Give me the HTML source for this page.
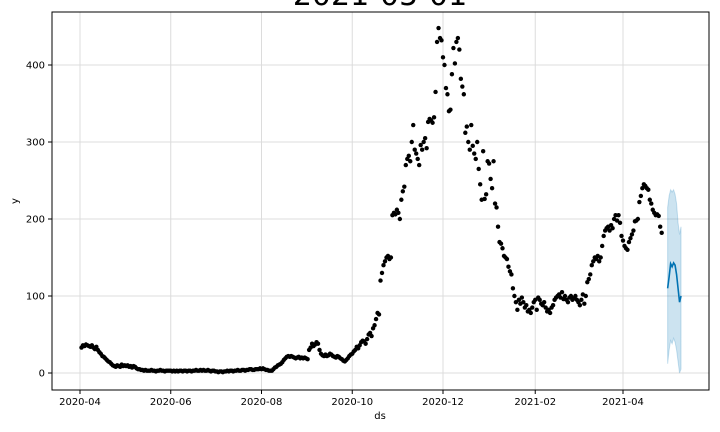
<!DOCTYPE html>
<html><head><meta charset="utf-8"><style>
html,body{margin:0;padding:0;background:#fff;width:720px;height:432px;overflow:hidden}
svg{display:block;font-family:"DejaVu Sans","Liberation Sans",sans-serif}
</style></head><body>
<svg id="chart" width="720" height="432">
<text x="380" y="5" font-size="30" text-anchor="middle" fill="#000">2021-05-01</text>
<g id="grid"></g>
<g id="band"></g>
<g id="dots"></g>
<g id="fline"></g>
<g id="axes"></g>
<text x="380" y="419" font-size="10" text-anchor="middle">ds</text>
<text x="18" y="201" font-size="10" text-anchor="middle" transform="rotate(-90 18 201)">y</text>
<rect x="52" y="12" width="657" height="378" fill="none" stroke="#000" stroke-width="1"/>
</svg>
<script>
const aprData=[33,36,35,37,36,35,34,36,33,31,34,30,27,25,22,21,19,17,15,14,12,10,9,8,10,9,8,11];
const mayData=[9,10,9,10,8,9,7,9,8,6,5,5,4,4,3,4,3,3,3,4,3,3,2,3,3,4,3,3,2,3,3];
const junData=[3,3,2,3,2,3,2,3,3,2,3,3,2,3,3,2,3,3,4,3,3,4,3,4,3,3,4,3,2,3];
const julData=[3,2,2,1,2,2,1,2,2,3,2,3,3,2,3,3,4,3,3,4,4,3,4,4,5,5,4,4,5,5,5];
const augData=[6,5,6,5,4,4,3,3,3,5,7,8,10,11,12,14,17,19,21,22,21,22,21,20,19,20,21,19,20,19,20];
const sepData=[19,18,30,33,38,35,37,40,38,30,25,23,22,24,22,23,25,24,22,21,20,22,21,19,18,16,15,17,19,22];
const octData=[24,25,28,30,34,32,36,40,42,41,38,44,50,52,48,58,62,70,78,76,120,130,140,145,150,152,148,150,205,208,206];
const novData=[212,208,200,225,236,242,270,278,282,275,300,322,290,285,278,270,296,290,300,305,292,326,330,328,325,332,365,430,448,435];
const decData=[432,410,400,370,362,340,342,388,422,402,430,435,420,382,372,362,312,320,300,290,322,295,285,278,300,265,245,225,288,226,232];
const janData=[275,272,252,240,275,220,215,190,170,168,162,152,150,148,138,132,128,110,100,92,82,95,90,98,92,85,88,80,82,78,85];
const febData=[92,95,82,98,95,90,88,92,85,80,82,78,85,88,95,98,100,102,98,105,96,100,95,92,98,100,95,97];
const marData=[100,95,92,88,95,102,90,100,118,122,128,140,145,150,148,152,145,150,165,178,185,188,190,185,192,188,200,205,198,205,195];
const apr21Data=[178,172,165,162,160,170,175,180,185,197,198,200,222,230,240,245,243,240,238,225,220,212,208,205,206,204,190,182];
const fcYhat=[110,125,142,138,143,140,128,110,92,100];
const fcUpper=[215,230,238,235,238,232,220,195,180,190];
const fcLower=[12,30,42,38,45,40,30,15,0,5];
const xTickDays=[0,61,122,183,244,306,365];
const xTickLabels=["2020-04","2020-06","2020-08","2020-10","2020-12","2021-02","2021-04"];
const yTicks=[0,100,200,300,400];

const NS="http://www.w3.org/2000/svg";
const X=d=>80+d*1.4877;
const Y=v=>373-v*0.77;
function mk(tag,attrs,parent){const e=document.createElementNS(NS,tag);for(const k in attrs)e.setAttribute(k,attrs[k]);parent.appendChild(e);return e;}
const grid=document.getElementById('grid'),axes=document.getElementById('axes');
xTickDays.forEach((d,i)=>{
  const l=mk('line',{x1:X(d),x2:X(d),y1:12,y2:390,stroke:'#dcdcdc','stroke-width':1},grid);
  
  
  mk('line',{x1:X(d),x2:X(d),y1:390,y2:394,stroke:'#000'},axes);
  const t=mk('text',{x:X(d),y:405,'font-size':10,'text-anchor':'middle'},axes);
  t.textContent=xTickLabels[i];
  
  
});
yTicks.forEach(v=>{
  const l=mk('line',{x1:52,x2:709,y1:Y(v),y2:Y(v),stroke:'#dcdcdc','stroke-width':1},grid);
  
  
  mk('line',{x1:48,x2:52,y1:Y(v),y2:Y(v),stroke:'#000'},axes);
  const t=mk('text',{x:45,y:Y(v)+3.5,'font-size':10,'text-anchor':'end'},axes);
  t.textContent=v;
  
  
});
const obs=[].concat(aprData,mayData,junData,julData,augData,sepData,octData,novData,decData,janData,febData,marData,apr21Data);
const dots=document.getElementById('dots');
obs.forEach((v,i)=>{
  const c=mk('circle',{cx:X(i+1),cy:Y(v),r:2.2,fill:'#000'},dots);
  
  
});
const f0=395;
let up=fcUpper.map((v,i)=>X(f0+i)+','+Y(v));
let lo=fcLower.map((v,i)=>X(f0+i)+','+Y(v)).reverse();
const band=mk('polygon',{points:up.concat(lo).join(' '),fill:'#0072B2','fill-opacity':0.2,stroke:'#0072B2','stroke-opacity':0.2},document.getElementById('band'));


const fl=mk('polyline',{points:fcYhat.map((v,i)=>X(f0+i)+','+Y(v)).join(' '),fill:'none',stroke:'#0072B2','stroke-width':1.6},document.getElementById('fline'));


</script>
</body></html>
